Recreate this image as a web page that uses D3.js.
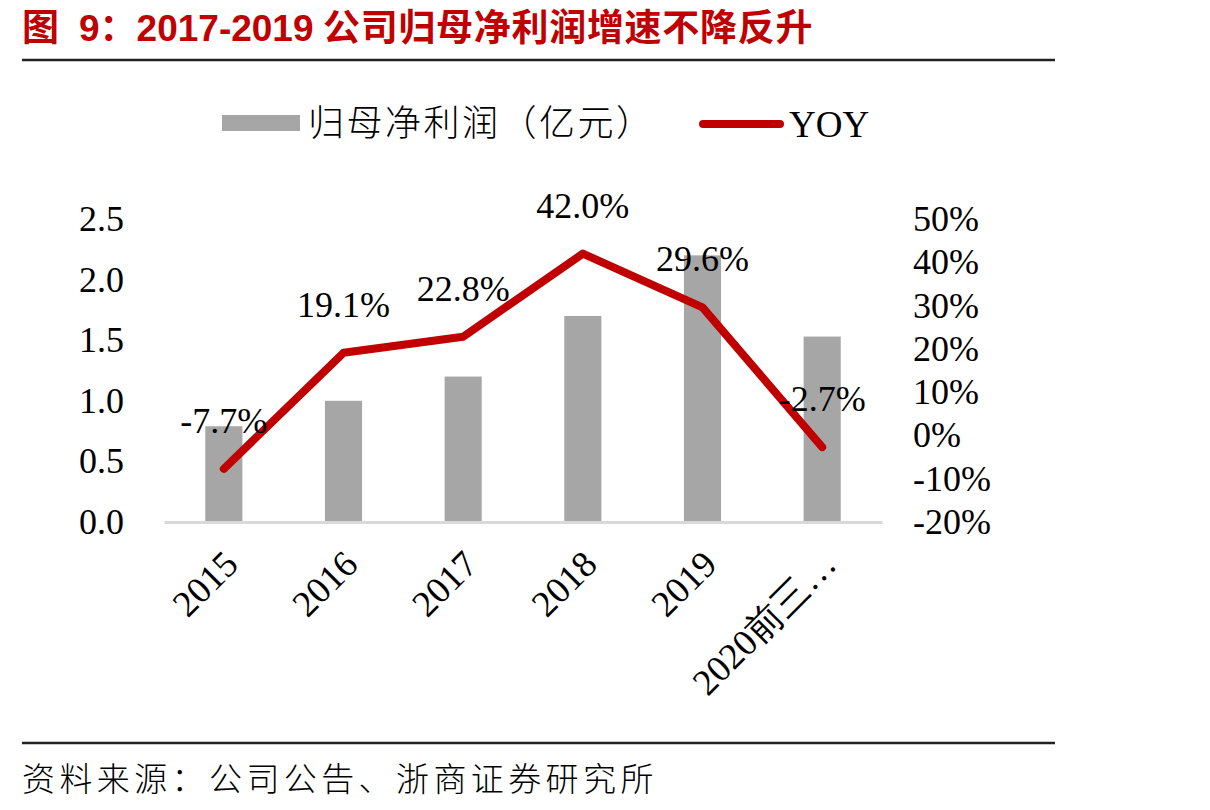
<!DOCTYPE html>
<html><head><meta charset="utf-8">
<script src="https://cdn.jsdelivr.net/npm/d3@7"></script>
<style>
body{margin:0;background:#fff;}
svg{display:block;}
</style></head>
<body>
<svg id="chart" width="1210" height="810"></svg>
<script>
const categories = ["2015","2016","2017","2018","2019","2020前三…"];
const profit = [0.79, 1.00, 1.20, 1.70, 2.20, 1.53];
const yoy = [-7.7, 19.1, 22.8, 42.0, 29.6, -2.7];
const leftTicks = [0, 0.5, 1.0, 1.5, 2.0, 2.5];
const rightTicks = [-20, -10, 0, 10, 20, 30, 40, 50];
const titleParts = ["图", "9：2017-2019", "公司归母净利润增速不降反升"];

const svg = d3.select("#chart");
const serif = "'Liberation Serif','Times New Roman',serif";
const cjk = "'Noto Sans CJK SC','Noto Sans',sans-serif";

// Title
const title = svg.append("text").attr("y",41)
  .attr("font-family","'Liberation Sans',Arial,'Noto Sans CJK SC',sans-serif")
  .attr("font-weight","bold").attr("font-size",37).attr("fill","#C00000");
title.append("tspan").attr("x",22).text(titleParts[0]);
title.append("tspan").attr("x",79).text(titleParts[1]);
title.append("tspan").attr("x",323).attr("letter-spacing",0.7).text(titleParts[2]);
svg.append("line").attr("x1",22).attr("x2",1055).attr("y1",60).attr("y2",60)
  .attr("stroke","#222").attr("stroke-width",2.5);

// Footer
svg.append("line").attr("x1",22).attr("x2",1055).attr("y1",743).attr("y2",743)
  .attr("stroke","#222").attr("stroke-width",2.5);
svg.append("text").attr("x",22).attr("y",791)
  .attr("font-family",cjk).attr("font-weight",300).attr("font-size",33)
  .attr("letter-spacing",4.4).attr("fill","#000")
  .text("资料来源：公司公告、浙商证券研究所");

// Scales
const x = d3.scaleBand().domain(categories).range([164,882]).paddingInner(0.69).paddingOuter(0.345);
const yL = d3.scaleLinear().domain([0,2.5]).range([522,219]);
const yR = d3.scaleLinear().domain([-20,50]).range([522,219]);

// Axes
const axL = d3.axisLeft(yL).tickValues(leftTicks).tickFormat(d3.format(".1f")).tickSize(0).tickPadding(0);
const gL = svg.append("g").attr("transform","translate(124,0)").call(axL);
gL.select(".domain").remove();
gL.selectAll("text").attr("font-family",serif).attr("font-size",36).attr("fill","#000");

const axR = d3.axisRight(yR).tickValues(rightTicks).tickFormat(d=>d+"%").tickSize(0).tickPadding(0);
const gR = svg.append("g").attr("transform","translate(913,0)").call(axR);
gR.select(".domain").remove();
gR.selectAll("text").attr("font-family",serif).attr("font-size",36).attr("fill","#000");

// Bars
svg.append("g").selectAll("rect").data(profit).join("rect")
  .attr("x",(d,i)=>x(categories[i]))
  .attr("width",x.bandwidth())
  .attr("y",d=>yL(d))
  .attr("height",d=>yL(0)-yL(d))
  .attr("fill","#A6A6A6");

// Category axis
const axB = d3.axisBottom(x).tickSize(0).tickPadding(0);
const gB = svg.append("g").attr("transform","translate(0,522)").call(axB);
gB.select(".domain").attr("stroke","#D9D9D9").attr("stroke-width",3);
gB.selectAll("text")
  .attr("font-family",serif).attr("font-size",37).attr("fill","#000")
  .attr("text-anchor","end")
  .attr("transform","translate(-2,26) rotate(-45)")
  .attr("dy","0.7em").attr("y",0);

// Line
const line = d3.line().x((d,i)=>x(categories[i])+x.bandwidth()/2).y(d=>yR(d));
svg.append("path").datum(yoy).attr("d",line)
  .attr("fill","none").attr("stroke","#C00000").attr("stroke-width",8)
  .attr("stroke-linejoin","round").attr("stroke-linecap","round");

// Data labels
svg.append("g").selectAll("text").data(yoy).join("text")
  .attr("x",(d,i)=>x(categories[i])+x.bandwidth()/2)
  .attr("y",d=>yR(d)-36)
  .attr("text-anchor","middle")
  .attr("font-family",serif).attr("font-size",36).attr("fill","#000")
  .text(d=>d.toFixed(1)+"%");

// Legend
const lg = svg.append("g");
lg.append("rect").attr("x",222).attr("y",115).attr("width",78).attr("height",16).attr("fill","#A6A6A6");
lg.append("text").attr("x",308).attr("y",136).attr("font-family",cjk).attr("font-weight",300)
  .attr("font-size",36).attr("letter-spacing",2.5).attr("fill","#000").text("归母净利润（亿元）");
lg.append("line").attr("x1",703).attr("x2",780).attr("y1",124).attr("y2",124)
  .attr("stroke","#C00000").attr("stroke-width",8).attr("stroke-linecap","round");
lg.append("text").attr("x",789).attr("y",137).attr("font-family",serif)
  .attr("font-size",37).attr("fill","#000").text("YOY");
</script>
</body></html>
